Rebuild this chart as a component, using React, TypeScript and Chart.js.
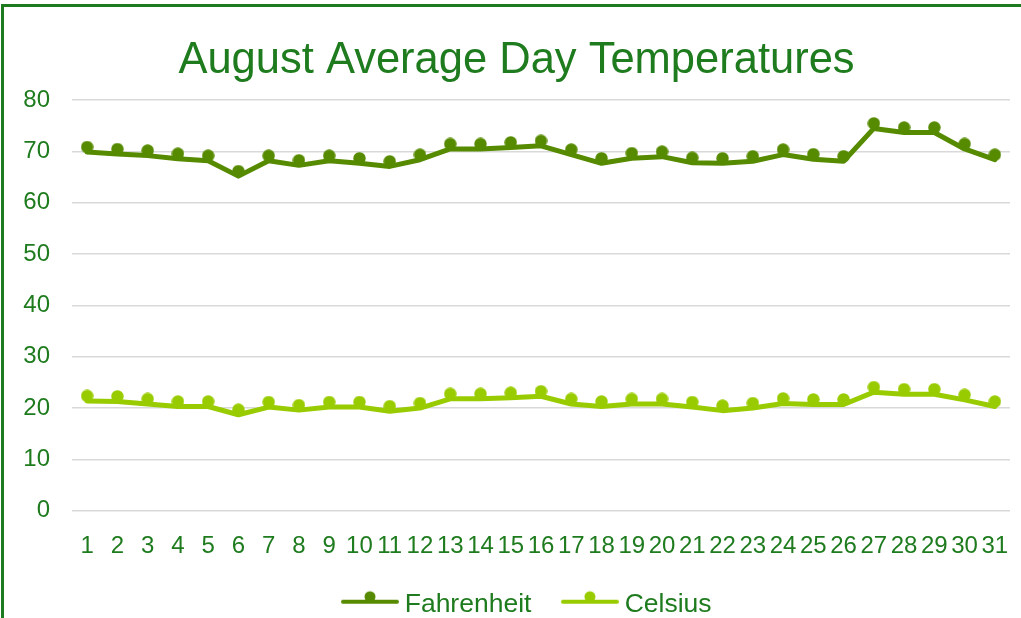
import React, { useEffect, useRef } from "react";
import { Chart, registerables } from "chart.js";

Chart.register(...registerables);

const days = [
  "1", "2", "3", "4", "5", "6", "7", "8", "9", "10", "11", "12", "13", "14", "15", "16",
  "17", "18", "19", "20", "21", "22", "23", "24", "25", "26", "27", "28", "29", "30", "31",
];
const fahrenheit = [
  69.9, 69.5, 69.2, 68.6, 68.2, 65.2, 68.2, 67.3, 68.2, 67.7, 67.1, 68.4, 70.5, 70.5, 70.8, 71.1,
  69.4, 67.7, 68.7, 69.0, 67.8, 67.7, 68.1, 69.4, 68.5, 68.1, 74.5, 73.7, 73.7, 70.5, 68.4,
];
const celsius = [
  21.4, 21.3, 20.8, 20.3, 20.3, 18.7, 20.2, 19.6, 20.2, 20.2, 19.4, 20.0, 21.8, 21.8, 22.0, 22.3,
  20.8, 20.3, 20.8, 20.8, 20.2, 19.5, 20.0, 20.9, 20.7, 20.7, 23.1, 22.7, 22.7, 21.6, 20.3,
];
const yMin = 0;
const yMax = 80;
const yStep = 10;
const TITLE = "August Average Day Temperatures";
const seriesNames = ["Fahrenheit", "Celsius"];
const seriesColors = ["#568B00", "#99CC00"];
const TEXT_COLOR = "#1E7B1E";
const BORDER_COLOR = "#1E7A1E";
const GRID_COLOR = "#D9D9D9";
const FONT = "'Liberation Sans', Arial, sans-serif";

function markerImage(color: string): HTMLCanvasElement {
  const c = document.createElement("canvas");
  c.width = 13;
  c.height = 23;
  const g = c.getContext("2d")!;
  g.fillStyle = color;
  g.beginPath();
  g.arc(6.5, 6.5, 6.2, 0, Math.PI * 2);
  g.fill();
  return c;
}

const LEGEND_LEAD = 27;
function legendImage(color: string): HTMLCanvasElement {
  const c = document.createElement("canvas");
  c.width = 58 + LEGEND_LEAD;
  c.height = 30;
  const g = c.getContext("2d")!;
  g.strokeStyle = color;
  g.lineWidth = 4;
  g.lineCap = "round";
  g.beginPath();
  g.moveTo(LEGEND_LEAD + 2, 12);
  g.lineTo(LEGEND_LEAD + 56, 12);
  g.stroke();
  g.fillStyle = color;
  g.beginPath();
  g.arc(LEGEND_LEAD + 29, 7, 5.5, 0, Math.PI * 2);
  g.fill();
  return c;
}

export default function App() {
  const ref = useRef<HTMLCanvasElement | null>(null);

  useEffect(() => {
    if (!ref.current) return;
    const series = [fahrenheit, celsius];
    const chart = new Chart(ref.current, {
      type: "line",
      data: {
        labels: days,
        datasets: series.map((values, i) => ({
          label: seriesNames[i],
          data: values,
          borderColor: seriesColors[i],
          backgroundColor: seriesColors[i],
          borderWidth: 5,
          borderJoinStyle: "round" as const,
          borderCapStyle: "round" as const,
          tension: 0,
          pointStyle: markerImage(seriesColors[i]),
          pointRadius: 6,
          fill: false,
        })),
      },
      options: {
        responsive: false,
        animation: false,
        layout: { padding: { left: 20, right: 8, top: 0, bottom: -10 } },
        scales: {
          x: {
            offset: true,
            grid: { display: false, drawTicks: false },
            border: { display: false },
            ticks: {
              autoSkip: false,
              maxRotation: 0,
              minRotation: 0,
              color: TEXT_COLOR,
              font: { family: FONT, size: 24 },
              padding: 21,
            },
            afterFit: (scale: any) => {
              scale.paddingLeft = 0;
              scale.paddingRight = 0;
            },
          },
          y: {
            min: yMin,
            max: yMax,
            grid: { color: GRID_COLOR, lineWidth: 1.5, drawTicks: false },
            border: { display: false },
            ticks: {
              stepSize: yStep,
              color: TEXT_COLOR,
              font: { family: FONT, size: 24 },
              padding: 22,
            },
            afterFit: (scale: any) => {
              scale.width = 52;
            },
          },
        },
        plugins: {
          tooltip: { enabled: false },
          title: {
            display: true,
            text: TITLE,
            color: TEXT_COLOR,
            font: { family: FONT, size: 43.5, weight: "normal" },
            padding: { top: 35, bottom: 13 },
          },
          legend: {
            display: true,
            position: "bottom",
            labels: {
              usePointStyle: true,
              pointStyleWidth: 43 + LEGEND_LEAD,
              padding: 10,
              color: TEXT_COLOR,
              font: { family: FONT, size: 26.5 },
              generateLabels: (ch: any) =>
                ch.data.datasets.map((ds: any, i: number) => ({
                  text: ds.label,
                  fontColor: TEXT_COLOR,
                  pointStyle: legendImage(seriesColors[i]),
                  fillStyle: seriesColors[i],
                  strokeStyle: seriesColors[i],
                  lineWidth: 0,
                  hidden: false,
                  datasetIndex: i,
                })),
            },
          },
        },
      },
    });
    return () => chart.destroy();
  }, []);

  return (
    <div style={{ position: "fixed", left: 0, top: 0, width: 1021, height: 618, overflow: "hidden", background: "#fff" }}>
      <div
        style={{
          position: "absolute",
          left: 1,
          top: 4,
          width: 1200,
          height: 800,
          border: `3px solid ${BORDER_COLOR}`,
          boxSizing: "border-box",
        }}
      />
      <canvas ref={ref} width={1021} height={618} style={{ position: "absolute", left: 0, top: 0, width: 1021, height: 618 }} />
    </div>
  );
}
